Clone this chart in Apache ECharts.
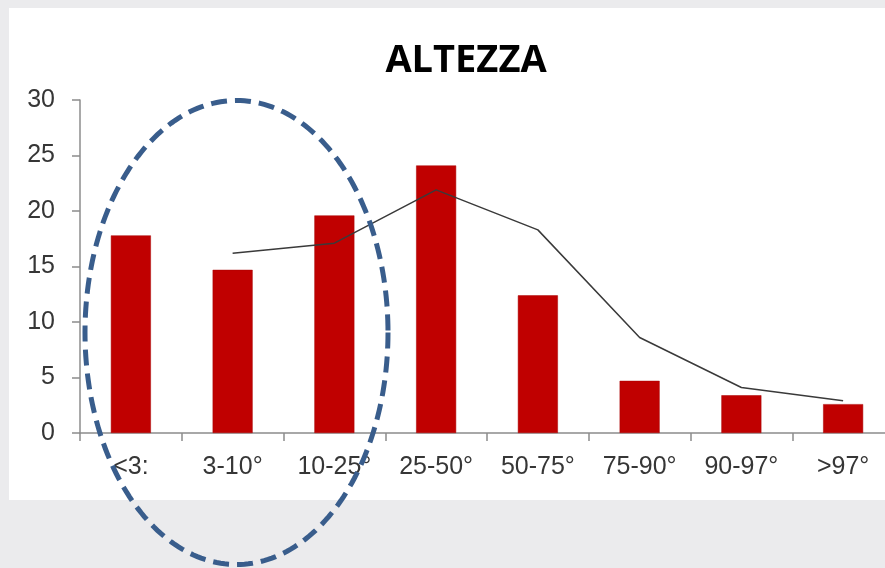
<!DOCTYPE html>
<html>
<head>
<meta charset="utf-8">
<script src="https://cdn.jsdelivr.net/npm/echarts@6/dist/echarts.min.js"></script>
<style>
  html, body { margin: 0; padding: 0; background: #ebebed; }
  #chart { width: 885px; height: 568px; }
</style>
</head>
<body>
<div id="chart"></div>
<script>
// Height percentile classes
const categories = ['<3:', '3-10°', '10-25°', '25-50°', '50-75°', '75-90°', '90-97°', '>97°'];
// Observed share per class (bars)
const observed = [17.8, 14.7, 19.6, 24.1, 12.4, 4.7, 3.4, 2.6];
// Reference curve (no value for the first class)
const reference = ['-', 16.2, 17.1, 21.9, 18.3, 8.6, 4.1, 2.9];
// Y axis range
const yMin = 0, yMax = 30, yStep = 5;

// Dashed ellipse highlighting the lowest classes
function ellipsePoints(cx, cy, rx, ry, n) {
  const pts = [];
  for (let i = 0; i < n; i++) {
    const t = (i / n) * Math.PI * 2;
    pts.push([cx + rx * Math.cos(t), cy + ry * Math.sin(t)]);
  }
  return pts;
}

const chart = echarts.init(document.getElementById('chart'), null, { renderer: 'canvas' });
const labelFont = { fontFamily: 'Liberation Sans, Arial, sans-serif', fontSize: 25, color: '#363636' };

chart.setOption({
  backgroundColor: '#ebebed',
  animation: false,
  graphic: [
    {
      type: 'rect', z: -10, silent: true,
      shape: { x: 9, y: 8, width: 876, height: 492 },
      style: { fill: '#ffffff' }
    },
    {
      type: 'text', z: 10,
      x: 466, y: 61,
      style: {
        text: 'ALTEZZA',
        font: 'bold 38px "Open Sans", sans-serif',
        fill: '#000',
        textAlign: 'center',
        textVerticalAlign: 'middle'
      }
    },
    {
      type: 'polygon', z: 100, silent: true,
      shape: { points: ellipsePoints(236.5, 332.5, 151.5, 232, 240) },
      style: { fill: 'none', stroke: '#395d8c', lineWidth: 5, lineDash: [16, 8] }
    }
  ],
  grid: {
    left: 80, top: 100, width: 814, height: 333,
    containLabel: false, outerBoundsMode: 'none'
  },
  xAxis: {
    type: 'category',
    data: categories,
    boundaryGap: true,
    axisLine: { show: true, lineStyle: { color: '#8c8c8c', width: 1.5 } },
    axisTick: { show: true, length: 8, interval: 0, lineStyle: { color: '#8c8c8c', width: 1.5 } },
    axisLabel: Object.assign({ interval: 0, margin: 22 }, labelFont),
    splitLine: { show: false }
  },
  yAxis: {
    type: 'value',
    min: yMin, max: yMax, interval: yStep,
    axisLine: { show: true, lineStyle: { color: '#8c8c8c', width: 1.5 } },
    axisTick: { show: true, length: 8, lineStyle: { color: '#8c8c8c', width: 1.5 } },
    axisLabel: Object.assign({ margin: 25 }, labelFont),
    splitLine: { show: false }
  },
  series: [
    {
      type: 'bar',
      data: observed,
      barWidth: 40,
      itemStyle: { color: '#c00000', borderColor: '#a80000', borderWidth: 0.5 }
    },
    {
      type: 'line',
      data: reference,
      showSymbol: false,
      symbol: 'none',
      lineStyle: { color: '#3a3a3a', width: 1.5 },
      z: 5
    }
  ]
});
</script>
</body>
</html>
